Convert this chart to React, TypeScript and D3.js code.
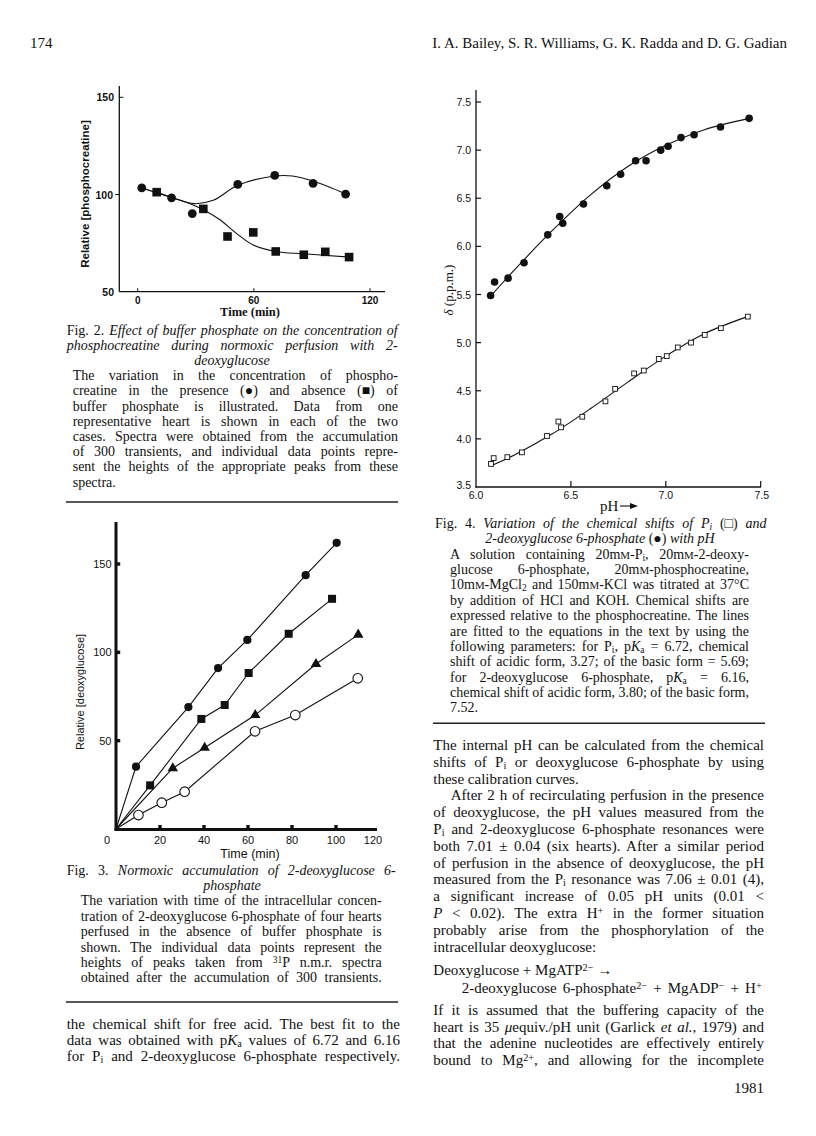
import React, { useEffect, useRef } from "react";
import * as d3 from "d3";

// Fig. 2: relative [phosphocreatine] against time (min)
const fig2Present = [[2.1, 103.4], [17.5, 98.3], [28.2, 90.2], [51.7, 105.2], [70.8, 109.8], [90.6, 105.7], [107.4, 100.2]];
const fig2Absent = [[9.8, 101.2], [33.9, 92.6], [46.4, 78.4], [59.7, 80.5], [71.3, 70.7], [85.8, 69.0], [96.9, 70.5], [109.2, 67.8]];
const fig2PresentFit = [[2.1, 103.4], [17.5, 98.5], [29, 95.3], [39, 97], [51.7, 104.7], [70.8, 109.5], [80, 109.5], [90.6, 106.9], [107.4, 100.3]];
const fig2AbsentFit = [[9.8, 101.2], [17.5, 98.5], [25, 96], [33.9, 92.2], [42.5, 87], [51, 80], [59.7, 74], [71.3, 70.7], [85.8, 69.5], [109.5, 67.8]];
const fig2XTicks = [0, 60, 120];
const fig2YTicks = [50, 100, 150];

// Fig. 3: relative [deoxyglucose] against time (min), four hearts
const fig3Origin = [0, 0];
const fig3Heart1 = [[9.1, 35.3], [32.9, 69.0], [46.4, 91.1], [59.7, 107.0], [86.2, 143.7], [100.3, 162.0]];
const fig3Heart2 = [[15.5, 24.7], [38.8, 62.3], [49.4, 70.2], [60.3, 88.3], [78.5, 110.5], [98.2, 130.3]];
const fig3Heart3 = [[25.8, 34.4], [40.3, 46.0], [63.3, 64.5], [90.9, 93.4], [110.1, 110.0]];
const fig3Heart4 = [[10.2, 7.9], [20.8, 14.9], [31.2, 21.1], [63.2, 55.3], [81.5, 64.5], [109.9, 85.3]];
const fig3XTicks = [0, 20, 40, 60, 80, 100, 120];
const fig3YTicks = [50, 100, 150];

// Fig. 4: chemical shift (p.p.m.) against pH
const fig4Dg6p = [[6.077, 5.49], [6.098, 5.63], [6.169, 5.67], [6.253, 5.83], [6.378, 6.12], [6.441, 6.31], [6.457, 6.24], [6.566, 6.44], [6.689, 6.63], [6.762, 6.75], [6.841, 6.89], [6.896, 6.89], [6.973, 7.0], [7.012, 7.04], [7.08, 7.13], [7.149, 7.16], [7.288, 7.24], [7.439, 7.33]];
const fig4Pi = [[6.079, 3.74], [6.093, 3.8], [6.165, 3.81], [6.242, 3.86], [6.374, 4.03], [6.434, 4.18], [6.448, 4.12], [6.56, 4.23], [6.682, 4.39], [6.733, 4.52], [6.833, 4.68], [6.884, 4.71], [6.963, 4.83], [7.005, 4.86], [7.063, 4.95], [7.133, 5.0], [7.205, 5.08], [7.29, 5.15], [7.432, 5.27]];
const fig4Dg6pFit = [[6.08, 5.49], [6.2, 5.75], [6.4, 6.16], [6.6, 6.53], [6.8, 6.83], [7.0, 7.05], [7.2, 7.21], [7.44, 7.33]];
const fig4PiFit = [[6.08, 3.72], [6.2, 3.83], [6.4, 4.05], [6.6, 4.31], [6.8, 4.59], [7.0, 4.86], [7.2, 5.09], [7.43, 5.27]];
const fig4XTicks = ["6.0", "6.5", "7.0", "7.5"];
const fig4YTicks = ["3.5", "4.0", "4.5", "5.0", "5.5", "6.0", "6.5", "7.0", "7.5"];

// page text
const fig2Caption = [
  "Fig. 2. <i>Effect of buffer phosphate on the concentration of</i>",
  "<i>phosphocreatine during normoxic perfusion with 2-</i>",
];
const fig2CaptionCentre = "<i>deoxyglucose</i>";
const fig2Legend = [
  "The variation in the concentration of phospho-",
  "creatine in the presence (●) and absence (■) of",
  "buffer phosphate is illustrated. Data from one",
  "representative heart is shown in each of the two",
  "cases. Spectra were obtained from the accumulation",
  "of 300 transients, and individual data points repre-",
  "sent the heights of the appropriate peaks from these",
  "spectra.",
];
const fig3Caption = ["Fig. 3. <i>Normoxic accumulation of 2-deoxyglucose 6-</i>"];
const fig3CaptionCentre = "<i>phosphate</i>";
const fig3Legend = [
  "The variation with time of the intracellular concen-",
  "tration of 2-deoxyglucose 6-phosphate of four hearts",
  "perfused in the absence of buffer phosphate is",
  "shown. The individual data points represent the",
  "heights of peaks taken from <sup>31</sup>P n.m.r. spectra",
  "obtained after the accumulation of 300 transients.",
];
const leftBody = [
  "the chemical shift for free acid. The best fit to the",
  "data was obtained with p<i>K</i><sub>a</sub> values of 6.72 and 6.16",
  "for P<sub>i</sub> and 2-deoxyglucose 6-phosphate respectively.",
];
const fig4Caption = ["Fig. 4. <i>Variation of the chemical shifts of P<sub>i</sub></i> (□) <i>and</i>"];
const fig4CaptionCentre = "<i>2-deoxyglucose 6-phosphate</i> (●) <i>with pH</i>";
const fig4Legend = [
  "A solution containing 20m<sc>M</sc>-P<sub>i</sub>, 20m<sc>M</sc>-2-deoxy-",
  "glucose 6-phosphate, 20m<sc>M</sc>-phosphocreatine,",
  "10m<sc>M</sc>-MgCl<sub>2</sub> and 150m<sc>M</sc>-KCl was titrated at 37°C",
  "by addition of HCl and KOH. Chemical shifts are",
  "expressed relative to the phosphocreatine. The lines",
  "are fitted to the equations in the text by using the",
  "following parameters: for P<sub>i</sub>, p<i>K</i><sub>a</sub> = 6.72, chemical",
  "shift of acidic form, 3.27; of the basic form = 5.69;",
  "for 2-deoxyglucose 6-phosphate, p<i>K</i><sub>a</sub> = 6.16,",
  "chemical shift of acidic form, 3.80; of the basic form,",
  "7.52.",
];
const rightBody = [
  "The internal pH can be calculated from the chemical",
  "shifts of P<sub>i</sub> or deoxyglucose 6-phosphate by using",
  "these calibration curves.",
  "After 2 h of recirculating perfusion in the presence",
  "of deoxyglucose, the pH values measured from the",
  "P<sub>i</sub> and 2-deoxyglucose 6-phosphate resonances were",
  "both 7.01 ± 0.04 (six hearts). After a similar period",
  "of perfusion in the absence of deoxyglucose, the pH",
  "measured from the P<sub>i</sub> resonance was 7.06 ± 0.01 (4),",
  "a significant increase of 0.05 pH units (0.01 <",
  "<i>P</i> < 0.02). The extra H<sup>+</sup> in the former situation",
  "probably arise from the phosphorylation of the",
  "intracellular deoxyglucose:",
];
const equation = [
  "Deoxyglucose + MgATP<sup>2−</sup> →",
  "2-deoxyglucose 6-phosphate<sup>2−</sup> + MgADP<sup>−</sup> + H<sup>+</sup>",
];
const rightBody2 = [
  "If it is assumed that the buffering capacity of the",
  "heart is 35 <i>μ</i>equiv./pH unit (Garlick <i>et al.</i>, 1979) and",
  "that the adenine nucleotides are effectively entirely",
  "bound to Mg<sup>2+</sup>, and allowing for the incomplete",
];

const SERIF = "'Liberation Serif', 'DejaVu Serif', serif";
const SANS = "'Liberation Sans', Arial, sans-serif";

function addText(g, x, y, markup, o) {
  const t = g
    .append("text")
    .attr("x", x)
    .attr("y", y)
    .attr("font-size", o.size)
    .attr("font-family", o.family || SERIF)
    .attr("text-anchor", o.anchor || "start")
    .attr("fill", "#111");
  if (o.weight) t.attr("font-weight", o.weight);
  if (o.rotate) t.attr("transform", `rotate(-90,${x},${y})`);
  const st = { i: false, sub: false, sup: false, sc: false };
  let plain = "";
  markup.split(/(<\/?(?:i|sub|sup|sc)>)/).forEach((p) => {
    const m = p.match(/^<(\/?)(i|sub|sup|sc)>$/);
    if (m) {
      st[m[2]] = m[1] !== "/";
      return;
    }
    if (!p) return;
    plain += p;
    const ts = t.append("tspan").text(p);
    if (st.i) ts.attr("font-style", "italic");
    if (st.sub) ts.attr("baseline-shift", "-22%").attr("font-size", o.size * 0.68);
    if (st.sup) ts.attr("baseline-shift", "38%").attr("font-size", o.size * 0.68);
    if (st.sc) ts.attr("font-size", o.size * 0.78);
  });
  // justify full lines by stretching the word gaps
  if (o.width) {
    const nat = t.node().getComputedTextLength();
    const spaces = (plain.match(/ /g) || []).length;
    if (nat > o.width) t.attr("textLength", o.width).attr("lengthAdjust", "spacingAndGlyphs");
    else if (spaces) t.attr("word-spacing", (o.width - nat) / spaces);
  }
  return t;
}

function lineBlock(g, lines, x, y0, step, size, width, lastFree = true) {
  lines.forEach((l, k) => {
    const last = k === lines.length - 1;
    addText(g, x, y0 + k * step, l, { size, width: last && lastFree ? undefined : width });
  });
}

const App = () => {
  const svgRef = useRef();

  useEffect(() => {
    const svg = d3.select(svgRef.current);
    svg.selectAll("*").remove();
    svg.append("rect").attr("width", 816).attr("height", 1136).attr("fill", "#fff");
    const g = svg.append("g");

    // running head
    addText(g, 30, 48, "174", { size: 15 });
    addText(g, 787, 48, "I. A. Bailey, S. R. Williams, G. K. Radda and D. G. Gadian", { size: 15, anchor: "end" });

    // ---------- Fig. 2 ----------
    const x2 = d3.scaleLinear().domain([0, 120]).range([137.7, 370]);
    const y2 = d3.scaleLinear().domain([50, 150]).range([291.7, 97.3]);
    const f2 = g.append("g").attr("stroke", "#111").attr("fill", "none");
    f2.append("line").attr("x1", 119.3).attr("x2", 119.3).attr("y1", 86).attr("y2", y2(50)).attr("stroke-width", 1.3);
    f2.append("line").attr("x1", 119.3).attr("x2", 385).attr("y1", y2(50)).attr("y2", y2(50)).attr("stroke-width", 1.3);
    fig2XTicks.forEach((v) => {
      f2.append("line").attr("x1", x2(v)).attr("x2", x2(v)).attr("y1", y2(50)).attr("y2", y2(50) - 3.5);
      addText(g, x2(v), 304, String(v), { size: 10, family: SANS, anchor: "middle", weight: "bold" });
    });
    fig2YTicks.forEach((v) => {
      const dx = v === 100 ? -4 : 4;
      if (v !== 50) f2.append("line").attr("x1", 119.3).attr("x2", 119.3 + dx).attr("y1", y2(v)).attr("y2", y2(v));
      addText(g, v === 100 ? 113 : 114, y2(v) + 4, String(v), { size: 10.5, family: SANS, anchor: "end", weight: "bold" });
    });
    addText(g, 89, 194, "Relative [phosphocreatine]", { size: 11.5, family: SANS, anchor: "middle", weight: "bold", rotate: true });
    addText(g, 250, 316, "Time (min)", { size: 12.5, family: SERIF, anchor: "middle", weight: "bold" });
    const line2 = d3.line().x((d) => x2(d[0])).y((d) => y2(d[1])).curve(d3.curveCatmullRom.alpha(0.5));
    f2.append("path").attr("d", line2(fig2PresentFit)).attr("stroke-width", 1.1);
    f2.append("path").attr("d", line2(fig2AbsentFit)).attr("stroke-width", 1.1);
    g.selectAll(".c2").data(fig2Present).enter().append("circle")
      .attr("cx", (d) => x2(d[0])).attr("cy", (d) => y2(d[1])).attr("r", 4.4).attr("fill", "#111");
    g.selectAll(".s2").data(fig2Absent).enter().append("rect")
      .attr("x", (d) => x2(d[0]) - 4.3).attr("y", (d) => y2(d[1]) - 4.3).attr("width", 8.6).attr("height", 8.6).attr("fill", "#111");

    lineBlock(g, fig2Caption, 66.7, 334.5, 15.2, 14, 331, false);
    addText(g, 232, 334.5 + 2 * 15.2, fig2CaptionCentre, { size: 14, anchor: "middle" });
    lineBlock(g, fig2Legend, 72.7, 334.5 + 3 * 15.2, 15.2, 14, 325.3);
    g.append("line").attr("x1", 66).attr("x2", 398).attr("y1", 502).attr("y2", 502).attr("stroke", "#222").attr("stroke-width", 1.5);

    // ---------- Fig. 3 ----------
    const x3 = d3.scaleLinear().domain([0, 120]).range([116, 380]);
    const y3 = d3.scaleLinear().domain([0, 150]).range([829, 564]);
    const f3 = g.append("g").attr("stroke", "#111").attr("fill", "none");
    f3.append("line").attr("x1", 116).attr("x2", 116).attr("y1", 522).attr("y2", 830.5).attr("stroke-width", 3);
    f3.append("line").attr("x1", 114.5).attr("x2", 377).attr("y1", 829.5).attr("y2", 829.5).attr("stroke-width", 3);
    fig3XTicks.forEach((v) => {
      if (v > 0 && v < 120) g.append("rect").attr("x", x3(v) - 1.7).attr("y", 825).attr("width", 3.4).attr("height", 3.4).attr("fill", "#111");
      const off = v === 0 ? -9 : v === 120 ? -7 : 0;
      addText(g, x3(v) + off, 844, String(v), { size: 11, family: SANS, anchor: "middle" });
    });
    fig3YTicks.forEach((v) => {
      g.append("rect").attr("x", 117).attr("y", y3(v) - 1.7).attr("width", 3.2).attr("height", 3.4).attr("fill", "#111");
      addText(g, 111.5, y3(v) + 4, String(v), { size: 11, family: SANS, anchor: "end" });
    });
    addText(g, 84, 692, "Relative [deoxyglucose]", { size: 11, family: SANS, anchor: "middle", rotate: true });
    addText(g, 250, 857.5, "Time (min)", { size: 12.5, family: SANS, anchor: "middle" });
    const line3 = d3.line().x((d) => x3(d[0])).y((d) => y3(d[1]));
    [fig3Heart1, fig3Heart2, fig3Heart3, fig3Heart4].forEach((s) => {
      f3.append("path").attr("d", line3([fig3Origin, ...s])).attr("stroke-width", 1.1);
    });
    g.selectAll(".h1").data(fig3Heart1).enter().append("circle")
      .attr("cx", (d) => x3(d[0])).attr("cy", (d) => y3(d[1])).attr("r", 4.1).attr("fill", "#111");
    g.selectAll(".h2").data(fig3Heart2).enter().append("rect")
      .attr("x", (d) => x3(d[0]) - 4).attr("y", (d) => y3(d[1]) - 4).attr("width", 8).attr("height", 8).attr("fill", "#111");
    const tri = d3.symbol().type(d3.symbolTriangle).size(48);
    g.selectAll(".h3").data(fig3Heart3).enter().append("path")
      .attr("d", tri).attr("transform", (d) => `translate(${x3(d[0])},${y3(d[1])})`).attr("fill", "#111");
    g.selectAll(".h4").data(fig3Heart4).enter().append("circle")
      .attr("cx", (d) => x3(d[0])).attr("cy", (d) => y3(d[1])).attr("r", 4.8).attr("fill", "#fff").attr("stroke", "#111").attr("stroke-width", 1.1);

    lineBlock(g, fig3Caption, 66.7, 874.5, 15.4, 14, 329, false);
    addText(g, 232, 874.5 + 15.4, fig3CaptionCentre, { size: 14, anchor: "middle" });
    lineBlock(g, fig3Legend, 80.7, 874.5 + 2 * 15.4, 15.4, 14, 301, false);
    g.append("line").attr("x1", 66).attr("x2", 398).attr("y1", 1002).attr("y2", 1002).attr("stroke", "#222").attr("stroke-width", 1.5);
    lineBlock(g, leftBody, 66.7, 1028.5, 16, 15, 333.3, false);

    // ---------- Fig. 4 ----------
    const x4 = d3.scaleLinear().domain([6, 7.5]).range([476, 760.7]);
    const y4 = d3.scaleLinear().domain([3.5, 7.5]).range([487, 102]);
    const f4 = g.append("g").attr("stroke", "#111").attr("fill", "none");
    f4.append("line").attr("x1", 476).attr("x2", 476).attr("y1", 90).attr("y2", 487.6).attr("stroke-width", 1.3);
    f4.append("line").attr("x1", 475.4).attr("x2", 761).attr("y1", 487).attr("y2", 487).attr("stroke-width", 1.3);
    fig4XTicks.forEach((s) => {
      const v = +s;
      if (v > 6) f4.append("line").attr("x1", x4(v)).attr("x2", x4(v)).attr("y1", 487).attr("y2", 481).attr("stroke-width", 1.2);
      addText(g, x4(v) + (v === 7.5 ? 1 : 0), 499, s, { size: 10.5, family: SANS, anchor: "middle" });
    });
    fig4YTicks.forEach((s) => {
      const v = +s;
      if (v > 3.5) f4.append("line").attr("x1", 476).attr("x2", 481).attr("y1", y4(v)).attr("y2", y4(v)).attr("stroke-width", 1.2);
      addText(g, 471, y4(v) + (v === 3.5 ? 1.5 : 4), s, { size: 10.5, family: SANS, anchor: "end" });
    });
    addText(g, 453, 290, "<i>δ</i> (p.p.m.)", { size: 13, anchor: "middle", rotate: true });
    addText(g, 600, 511, "pH", { size: 15, anchor: "start" });
    f4.append("line").attr("x1", 620).attr("x2", 634).attr("y1", 506).attr("y2", 506).attr("stroke-width", 1.1);
    g.append("path").attr("d", "M638,506 L630,503 L630,509 Z").attr("fill", "#111");
    const line4 = d3.line().x((d) => x4(d[0])).y((d) => y4(d[1])).curve(d3.curveCatmullRom.alpha(0.5));
    f4.append("path").attr("d", line4(fig4Dg6pFit)).attr("stroke-width", 1.1);
    f4.append("path").attr("d", line4(fig4PiFit)).attr("stroke-width", 1.1);
    g.selectAll(".d4").data(fig4Dg6p).enter().append("circle")
      .attr("cx", (d) => x4(d[0])).attr("cy", (d) => y4(d[1])).attr("r", 3.8).attr("fill", "#111");
    g.selectAll(".p4").data(fig4Pi).enter().append("rect")
      .attr("x", (d) => x4(d[0]) - 2.4).attr("y", (d) => y4(d[1]) - 2.4).attr("width", 4.8).attr("height", 4.8)
      .attr("fill", "#fff").attr("stroke", "#111").attr("stroke-width", 0.9);

    lineBlock(g, fig4Caption, 435, 528, 15.37, 14, 331.5, false);
    addText(g, 600, 528 + 15.37, fig4CaptionCentre, { size: 14, anchor: "middle" });
    lineBlock(g, fig4Legend, 450, 528 + 2 * 15.37, 15.37, 14, 299);
    g.append("line").attr("x1", 433).attr("x2", 765).attr("y1", 723.3).attr("y2", 723.3).attr("stroke", "#222").attr("stroke-width", 1.5);

    // ---------- body text ----------
    rightBody.forEach((l, k) => {
      const free = k === 2 || k === rightBody.length - 1;
      const indent = k === 3 ? 17.4 : 0;
      addText(g, 433.3 + indent, 750 + k * 16.8, l, { size: 15, width: free ? undefined : 330.7 - indent });
    });
    addText(g, 433.3, 975, equation[0], { size: 15 });
    addText(g, 461.7, 993.3, equation[1], { size: 15, width: 300 });
    lineBlock(g, rightBody2, 433.3, 1015, 16.5, 15, 330.7, false);
    addText(g, 764, 1093.3, "1981", { size: 15, anchor: "end" });
  }, []);

  return (
    <svg
      ref={svgRef}
      width={816}
      height={1136}
      style={{ position: "absolute", left: 0, top: 0, display: "block" }}
    />
  );
};

export default App;
